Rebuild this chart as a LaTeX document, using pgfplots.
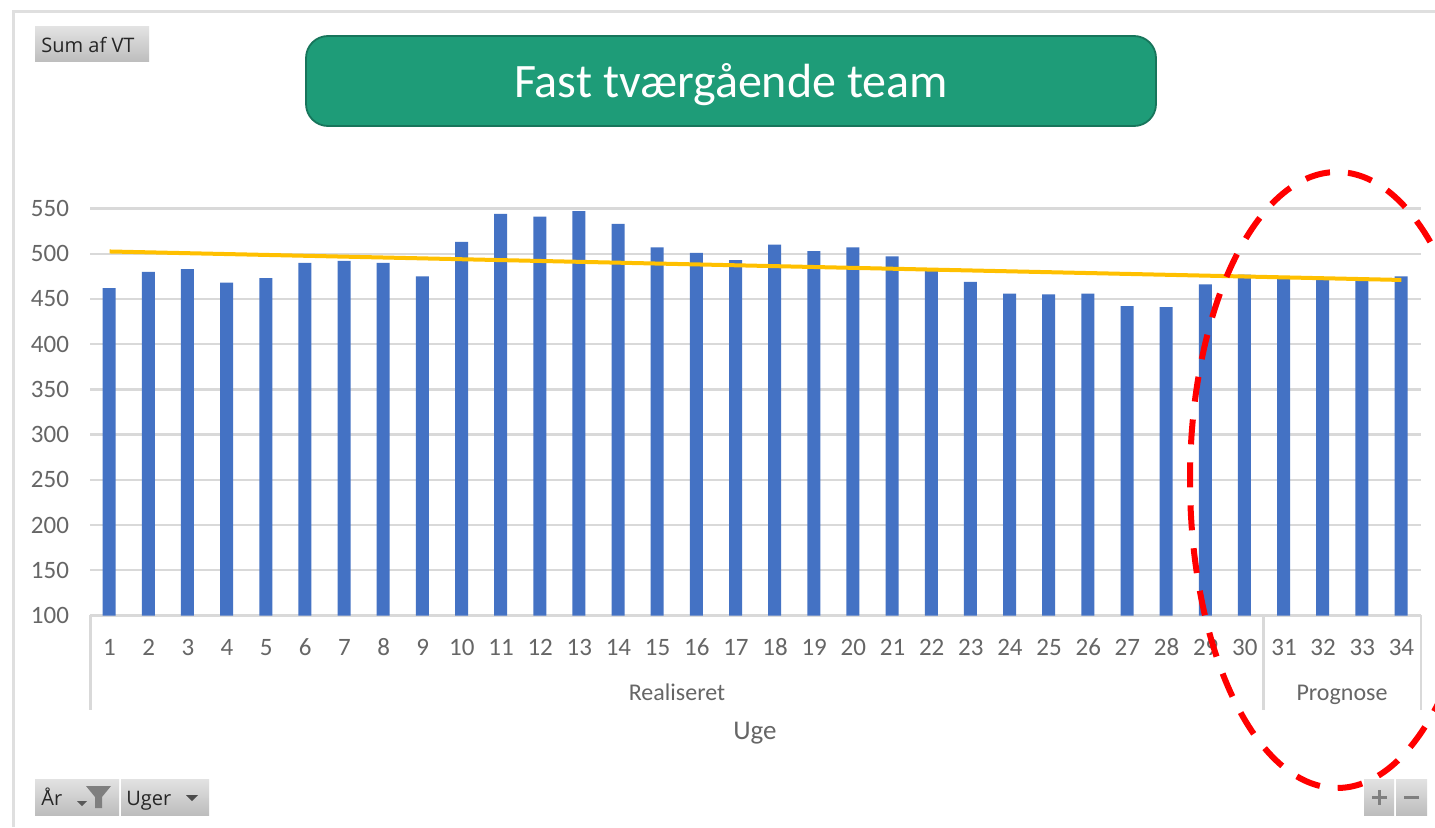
\documentclass[border=0pt]{standalone}
\usepackage{fontspec}
\setmainfont{Carlito}
\newfontfamily\uifont{Open Sans}
\usepackage{pgfplots}
\pgfplotsset{compat=1.18}
\usepackage{pgfplotstable}
\definecolor{barblue}{HTML}{4472C4}
\definecolor{trend}{HTML}{FFC000}
\definecolor{gridc}{HTML}{D9D9D9}
\definecolor{txt}{HTML}{666666}
\definecolor{titlefill}{HTML}{1E9C78}
\definecolor{titleedge}{HTML}{17755B}
\definecolor{btnT}{HTML}{E2E2E2}
\definecolor{btnB}{HTML}{BDBDBD}
\definecolor{ictxt}{HTML}{7F7F7F}
\pgfplotstableread{
x y
1 462
2 480
3 483
4 468
5 473
6 490
7 492
8 490
9 475
10 513
11 544
12 541
13 547
14 533
15 507
16 501
17 493
18 510
19 503
20 507
21 497
22 484
23 469
24 456
25 455
26 456
27 442
28 441
29 466
30 477
31 474
32 473
33 474
34 475
}\vtdata
\pgfplotstableread{
x y
1 502.5
34 471
}\trenddata
\begin{document}
\begin{tikzpicture}
\path[use as bounding box,fill=white] (0,0) rectangle (717.5pt,413.5pt);
\begin{axis}[
  at={(45pt,105.75pt)}, anchor=south west,
  scale only axis, width=665.5pt, height=203.5pt,
  xmin=0.5, xmax=34.5, ymin=100, ymax=550,
  ytick={100,150,...,550},
  xtick=data,
  ymajorgrids, grid style={gridc,line width=1.2pt},
  axis x line*=bottom, axis y line*=left,
  x axis line style={gridc,line width=1.2pt},
  y axis line style={draw=none},
  major tick length=0pt,
  tick label style={font=\fontsize{12.5}{14}\selectfont,text=txt},
  /pgf/number format/assume math mode=true,
  /pgf/number format/1000 sep={},
  yticklabel style={xshift=-7pt},
  xticklabel style={anchor=base,yshift=-20pt},
  clip=false,
]
\addplot[ybar,bar width=6.5pt,bar shift=-0.2pt,fill=barblue,draw=none] table[x=x,y=y] {\vtdata};
\addplot[trend,line width=2pt] table[x=x,y=y] {\trenddata};
\end{axis}
\begin{scope}[x=0.5pt,y=-0.5pt,yshift=413.5pt]
  % frame
  \draw[gridc!85,line width=1.5pt] (13.5,827) -- (13.5,11.5) -- (1435,11.5);
  % category separators
  \draw[gridc,line width=1.2pt] (90.5,615) -- (90.5,710);
  \draw[gridc,line width=1.2pt] (1263.5,615) -- (1263.5,710);
  \draw[gridc,line width=1.2pt] (1421,615) -- (1421,710);
  \node[text=txt,font=\fontsize{12}{14}\selectfont,anchor=base] at (677,700) {Realiseret};
  \node[text=txt,font=\fontsize{12}{14}\selectfont,anchor=base] at (1342,700) {Prognose};
  \node[text=txt,font=\fontsize{13.5}{15}\selectfont,anchor=base] at (755,739) {Uge};
  % title
  \draw[fill=titlefill,draw=titleedge,line width=0.9pt,rounded corners=11pt] (306,36) rectangle (1156,126);
  \node[text=white,font=\fontsize{24}{28}\selectfont] at (731,85) {Fast tværgående team};
  % buttons
  \shade[top color=btnT,bottom color=btnB] (35,27) rectangle (149,62);
  \node[text=black!85,font=\uifont\fontsize{10}{12}\selectfont] at (88,45) {Sum af VT};
  \shade[top color=btnT,bottom color=btnB] (35,779) rectangle (119,815);
  \node[text=black!85,font=\uifont\fontsize{10}{12}\selectfont,anchor=base west,inner sep=0pt] at (41,805) {År};
  \fill[black!65] (77,801) -- (87,801) -- (82,806) -- cycle;
  \fill[ictxt] (86,786) -- (111,786) -- (102,797) -- (102,808) -- (95,808) -- (95,797) -- cycle;
  \shade[top color=btnT,bottom color=btnB] (121,779) rectangle (209,815);
  \node[text=black!85,font=\uifont\fontsize{10}{12}\selectfont,anchor=base west,inner sep=0pt] at (126,805) {Uger};
  \fill[black!70] (186,795) -- (198,795) -- (192,801) -- cycle;
  % ellipse
  \begin{scope}
    \clip (0,0) rectangle (1435,827);
    \draw[red,line width=3pt,dash pattern=on 12.5pt off 9pt,dash phase=0.5pt] (1337,480) ellipse [x radius=147,y radius=308];
  \end{scope}
  % zoom buttons
  \shade[top color=btnT,bottom color=btnB] (1364,779) rectangle (1394,815);
  \shade[top color=btnT,bottom color=btnB] (1396,779) rectangle (1427,815);
  \draw[ictxt,line width=1.5pt] (1372,797.5) -- (1387,797.5) (1379.5,790) -- (1379.5,805);
  \draw[ictxt,line width=1.5pt] (1404,797.5) -- (1419,797.5);
\end{scope}
\end{tikzpicture}
\end{document}
